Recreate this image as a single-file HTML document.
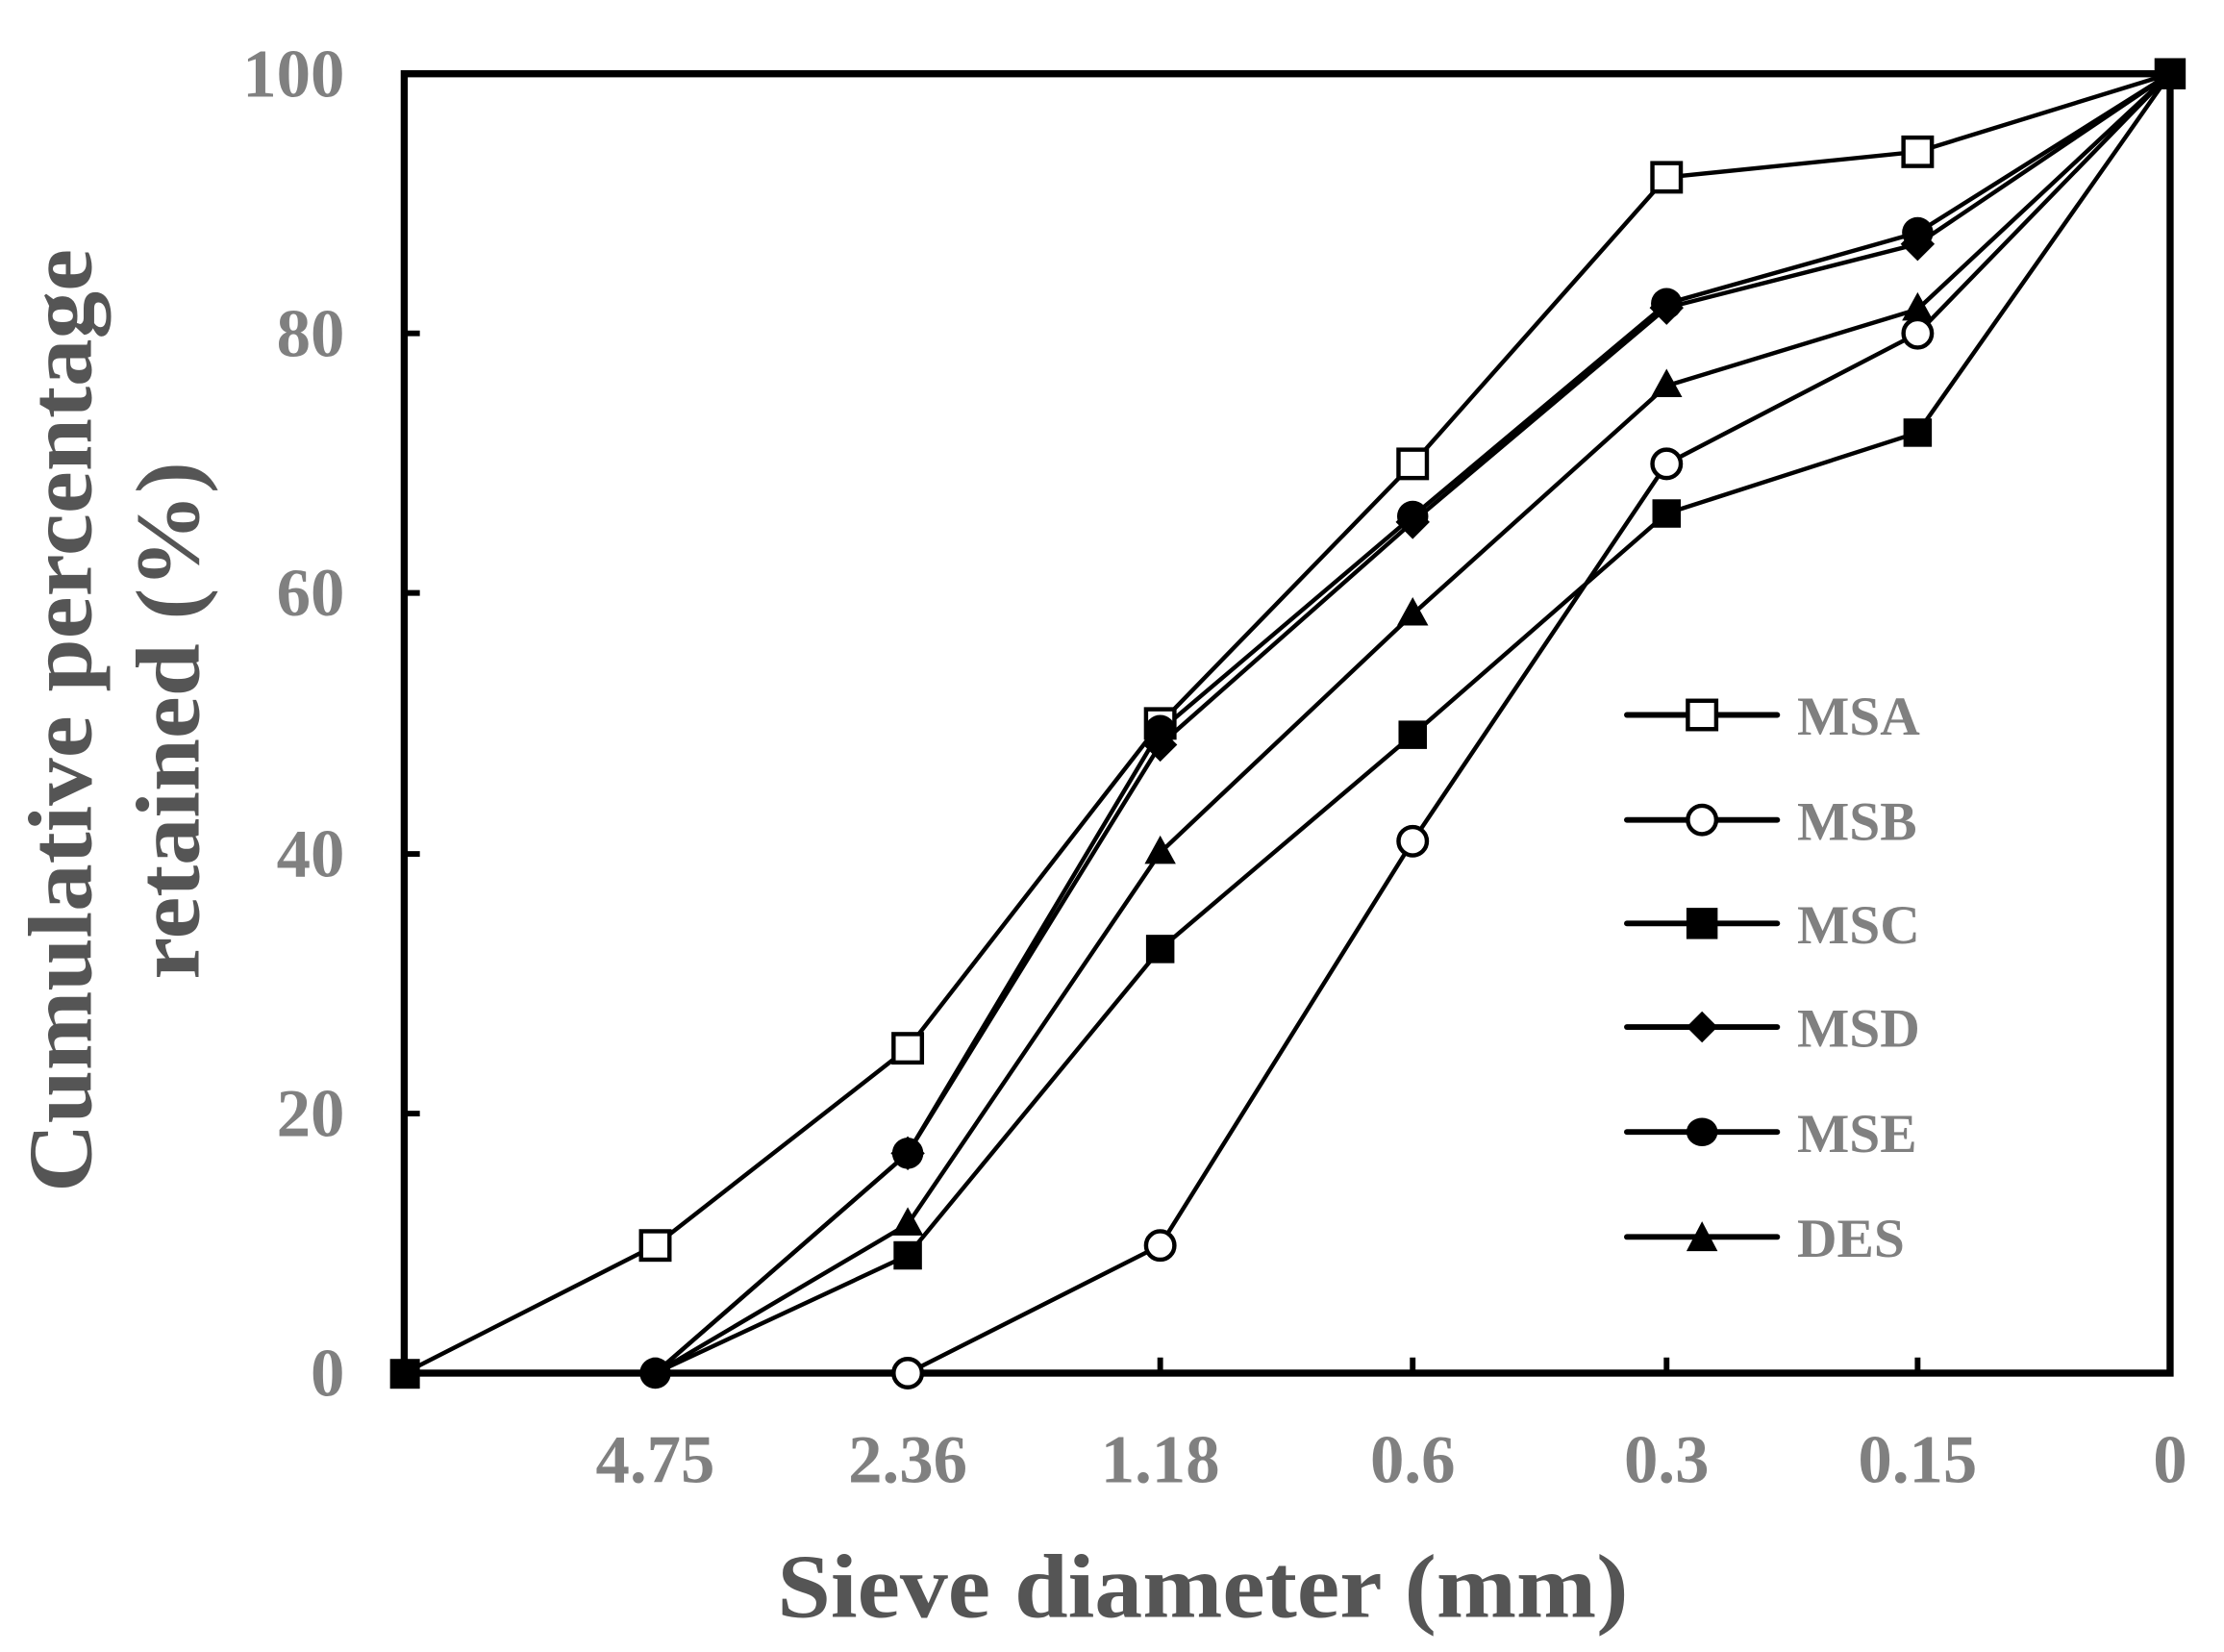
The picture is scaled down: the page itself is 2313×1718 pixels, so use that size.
<!DOCTYPE html>
<html><head><meta charset="utf-8"><style>html,body{margin:0;padding:0;background:#fff}svg{display:block}</style></head>
<body>
<svg width="2313" height="1718" viewBox="0 0 1568 1164.6" preserveAspectRatio="none" xmlns="http://www.w3.org/2000/svg" font-family="Liberation Serif, serif" font-weight="bold">
<rect width="1568" height="1165" fill="#fff"/>
<g fill="#808080" font-size="48" text-anchor="end">
<text x="243" y="68">100</text>
<text x="243" y="251">80</text>
<text x="243" y="434">60</text>
<text x="243" y="618">40</text>
<text x="243" y="801">20</text>
<text x="243" y="984">0</text>
</g>
<g fill="#808080" font-size="48" text-anchor="middle">
<text x="462" y="1045">4.75</text>
<text x="640" y="1045">2.36</text>
<text x="818" y="1045">1.18</text>
<text x="996" y="1045">0.6</text>
<text x="1175" y="1045">0.3</text>
<text x="1352" y="1045">0.15</text>
<text x="1530" y="1045">0</text>
</g>
<text x="848" y="1140" fill="#555" font-size="64" text-anchor="middle" textLength="600" lengthAdjust="spacingAndGlyphs">Sieve diameter (mm)</text>
<text transform="translate(64,508) rotate(-90)" fill="#555" font-size="64" text-anchor="middle" textLength="665" lengthAdjust="spacingAndGlyphs">Cumulative percentage</text>
<text transform="translate(140,508) rotate(-90)" fill="#555" font-size="64" text-anchor="middle" textLength="365" lengthAdjust="spacingAndGlyphs">retained (%)</text>
<rect x="285" y="52" width="1245" height="916" fill="none" stroke="#000" stroke-width="5"/>
<g stroke="#000" stroke-width="4">
<line x1="285" y1="235" x2="296" y2="235"/><line x1="285" y1="418" x2="296" y2="418"/>
<line x1="285" y1="602" x2="296" y2="602"/><line x1="285" y1="785" x2="296" y2="785"/>
<line x1="462" y1="968" x2="462" y2="957"/><line x1="640" y1="968" x2="640" y2="957"/>
<line x1="818" y1="968" x2="818" y2="957"/><line x1="996" y1="968" x2="996" y2="957"/>
<line x1="1175" y1="968" x2="1175" y2="957"/><line x1="1352" y1="968" x2="1352" y2="957"/>
</g>
<g fill="none" stroke="#000" stroke-width="3" stroke-linejoin="round">
<polyline points="285,968 462,878 640,739 818,510 996,327 1175,125 1352,107 1530,52"/>
<polyline points="462,968 640,968 818,878 996,593 1175,327 1352,235 1530,52"/>
<polyline points="462,968 640,885 818,669 996,518 1175,362 1352,305 1530,52"/>
<polyline points="462,968 640,813 818,525 996,368 1175,217 1352,172 1530,52"/>
<polyline points="462,968 640,813 818,515 996,364 1175,214 1352,164 1530,52"/>
<polyline points="462,968 640,863 818,601 996,433 1175,272 1352,218 1530,52"/>
</g>
<g stroke="#000" stroke-width="3">
<g fill="#fff"><rect x="452" y="868" width="20" height="20"/><rect x="630" y="729" width="20" height="20"/><rect x="808" y="500" width="20" height="20"/><rect x="986" y="317" width="20" height="20"/><rect x="1165" y="115" width="20" height="20"/><rect x="1342" y="97" width="20" height="20"/>
<circle cx="640" cy="968" r="10"/><circle cx="818" cy="878" r="10"/><circle cx="996" cy="593" r="10"/><circle cx="1175" cy="327" r="10"/><circle cx="1352" cy="235" r="10"/></g>
</g>
<g fill="#000">
<rect x="275" y="958" width="21" height="21"/><rect x="630" y="875" width="20" height="20"/><rect x="808" y="659" width="20" height="20"/><rect x="986" y="508" width="20" height="20"/><rect x="1165" y="352" width="20" height="20"/><rect x="1342" y="295" width="20" height="20"/><rect x="1519" y="41" width="22" height="22"/>
<path d="M640,801l12,12l-12,12l-12,-12z M818,513l12,12l-12,12l-12,-12z M996,356l12,12l-12,12l-12,-12z M1175,205l12,12l-12,12l-12,-12z M1352,160l12,12l-12,12l-12,-12z"/>
<circle cx="462" cy="968" r="11"/><circle cx="640" cy="813" r="11"/><circle cx="818" cy="515" r="11"/><circle cx="996" cy="364" r="11"/><circle cx="1175" cy="214" r="11"/><circle cx="1352" cy="164" r="11"/>
<path d="M640,851l11,20h-22z M818,589l11,20h-22z M996,421l11,20h-22z M1175,260l11,20h-22z M1352,206l11,20h-22z"/>
</g>
<g stroke="#000" stroke-width="4" stroke-linecap="round">
<line x1="1147" y1="504" x2="1253" y2="504"/><line x1="1147" y1="578" x2="1253" y2="578"/>
<line x1="1147" y1="651" x2="1253" y2="651"/><line x1="1147" y1="724" x2="1253" y2="724"/>
<line x1="1147" y1="798" x2="1253" y2="798"/><line x1="1147" y1="872" x2="1253" y2="872"/>
</g>
<g stroke="#000" stroke-width="3" fill="#fff">
<rect x="1190" y="494" width="20" height="20"/><circle cx="1200" cy="578" r="10"/>
</g>
<g fill="#000">
<rect x="1189" y="640" width="22" height="22"/>
<path d="M1200,713l11,11l-11,11l-11,-11z"/>
<ellipse cx="1200" cy="798" rx="11" ry="10"/>
<path d="M1200,861l11,21h-22z"/>
</g>
<g fill="#808080" font-size="39">
<text x="1267" y="518">MSA</text><text x="1267" y="592">MSB</text><text x="1267" y="665">MSC</text>
<text x="1267" y="738">MSD</text><text x="1267" y="812">MSE</text><text x="1267" y="886">DES</text>
</g>
</svg>
</body></html>
